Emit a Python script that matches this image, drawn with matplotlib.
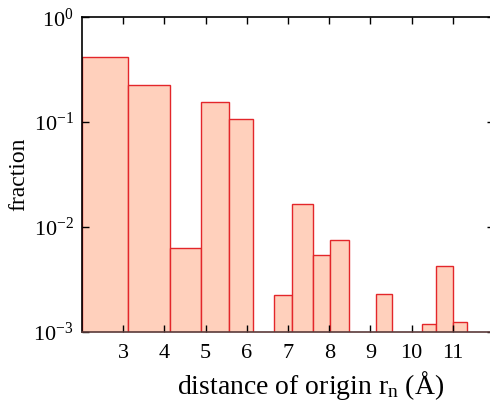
import matplotlib
matplotlib.use('Agg')
import matplotlib.pyplot as plt
import numpy as np

plt.rcParams['font.family'] = ['Liberation Serif', 'DejaVu Serif']
plt.rcParams['mathtext.fontset'] = 'custom'
plt.rcParams['mathtext.rm'] = 'Liberation Serif'
plt.rcParams['mathtext.it'] = 'Liberation Serif:italic'

# bar edges (Angstrom) and fractions
left_edges = [2.0, 3.12, 4.13, 4.89, 5.57, 6.65, 7.10, 7.60, 8.01, 9.13, 10.26, 10.60, 11.01]
right_edges = [3.12, 4.13, 4.89, 5.57, 6.15, 7.10, 7.60, 8.01, 8.48, 9.52, 10.60, 11.01, 11.35]
fraction = [0.415, 0.227, 0.00625, 0.157, 0.106, 0.00214, 0.0163, 0.00524, 0.00745,
            0.00218, 0.00108, 0.00417, 0.00113]
xticks = [3, 4, 5, 6, 7, 8, 9, 10, 11]

fig = plt.figure(figsize=(4.9, 4.05), dpi=100)
ax = fig.add_axes([0.1676, 0.181, 0.8404, 0.776])

widths = np.array(right_edges) - np.array(left_edges)
ax.bar(left_edges, fraction, width=widths, align='edge', bottom=1e-4,
       color='#ffd0bc', edgecolor='#e3262a', linewidth=1.0)

ax.set_yscale('log')
ax.set_ylim(1e-3, 1)
ax.set_xlim(2, 12)
ax.set_xticks(xticks)
ax.set_xticklabels([str(t) for t in xticks])
ax.set_yticks([1e-3, 1e-2, 1e-1, 1])
ax.set_yticklabels(['$10^{-3}$', '$10^{-2}$', '$10^{-1}$', '$10^{0}$'])
ax.minorticks_off()
ax.tick_params(direction='in', top=True, right=True, length=5, width=1,
               labelsize=16, pad=9)
ax.tick_params(axis='y', pad=6)
for s in ax.spines.values():
    s.set_linewidth(1.2)
ax.spines['bottom'].set_color('#5a3a3a')

ax.set_xlabel('distance of origin r$_\\mathrm{n}$ (Å)', fontsize=20)
ax.xaxis.set_label_coords(0.554, -0.118)
ax.set_ylabel('fraction', fontsize=17, labelpad=3)

fig.savefig('out.png', dpi=100)
